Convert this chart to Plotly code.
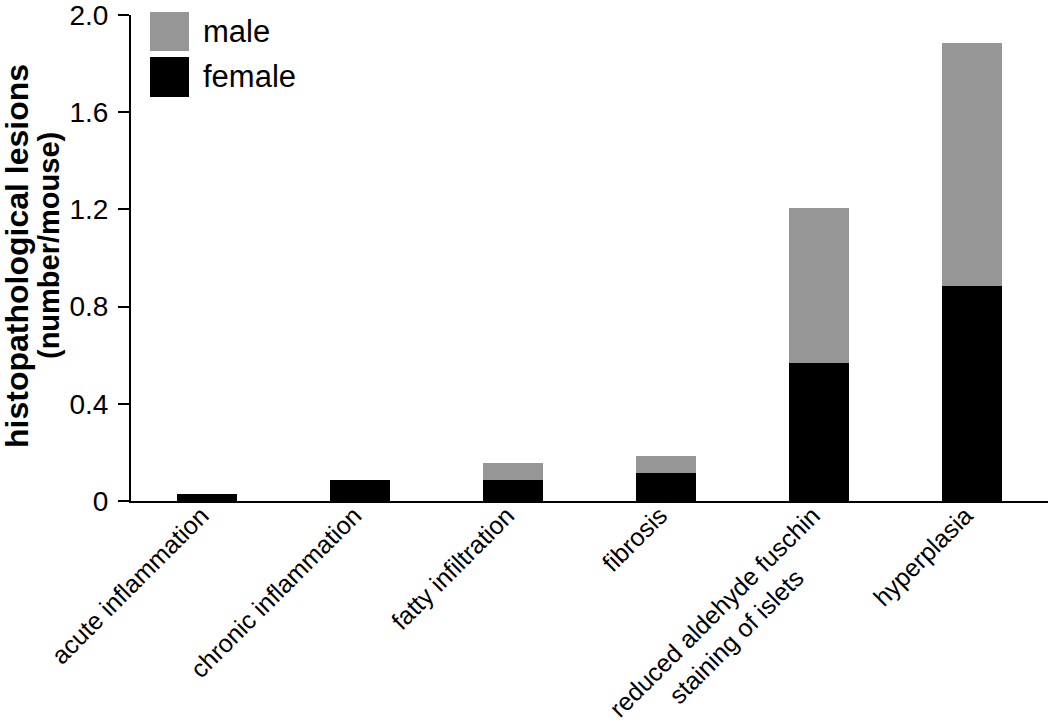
import plotly.graph_objects as go

categories = [
    "acute inflammation",
    "chronic inflammation",
    "fatty infiltration",
    "fibrosis",
    "reduced aldehyde fuschin<br>staining of islets" + "\u00a0" * 8,
    "hyperplasia",
]
female = [0.03, 0.085, 0.085, 0.115, 0.57, 0.885]
male = [0.0, 0.0, 0.07, 0.07, 0.635, 1.0]
y_tickvals = [0, 0.4, 0.8, 1.2, 1.6, 2.0]
y_ticktext = ["0", "0.4", "0.8", "1.2", "1.6", "2.0"]

FEMALE_COLOR = "#000000"
MALE_COLOR = "#969696"
FONT = "Liberation Sans, Arial, Helvetica, sans-serif"

fig = go.Figure()
fig.add_trace(go.Bar(x=categories, y=female, name="female",
                     marker=dict(color=FEMALE_COLOR, line=dict(width=0))))
fig.add_trace(go.Bar(x=categories, y=male, name="male",
                     marker=dict(color=MALE_COLOR, line=dict(width=0))))

TOP = 15
fig.update_layout(
    width=1050, height=726,
    margin=dict(l=131, r=2, t=TOP, b=225),
    barmode="stack", bargap=0.608,
    showlegend=False,
    plot_bgcolor="white", paper_bgcolor="white",
    font=dict(family=FONT, color="black"),
    xaxis=dict(
        showline=True, linecolor="black", linewidth=2,
        ticks="", tickangle=-45, automargin=False,
        ticklabelstandoff=-12, ticklabelshift=-6,
        tickfont=dict(size=25, family=FONT, color="black"),
        showgrid=False, zeroline=False,
    ),
    yaxis=dict(
        range=[0, 2.0005], tickvals=y_tickvals, ticktext=y_ticktext,
        showline=True, linecolor="black", linewidth=2, automargin=False,
        ticks="outside", ticklen=11, tickwidth=2, tickcolor="black",
        ticklabelstandoff=4, ticklabeloverflow="allow",
        tickfont=dict(size=28, family=FONT, color="black"),
        showgrid=False, zeroline=False,
    ),
)

plot_w, plot_h = 917, 501 - TOP
def px_x(p):
    return (p - 131) / plot_w
def px_y(p):
    return (501 - p) / plot_h

# y-axis title (two lines placed separately)
fig.add_annotation(xref="paper", yref="paper", x=px_x(17), y=px_y(256),
                   text="<b>histopathological lesions</b>", textangle=-90,
                   showarrow=False, xanchor="center", yanchor="middle",
                   font=dict(size=32, family=FONT, color="black"))
fig.add_annotation(xref="paper", yref="paper", x=px_x(49), y=px_y(246),
                   text="<b>(number/mouse)</b>", textangle=-90,
                   showarrow=False, xanchor="center", yanchor="middle",
                   font=dict(size=29, family=FONT, color="black"))

# legend drawn as swatches + labels
legend_items = [("male", MALE_COLOR, 12, 51), ("female", FEMALE_COLOR, 57, 97)]
for label, color, top, bottom in legend_items:
    fig.add_shape(type="rect", xref="paper", yref="paper",
                  x0=px_x(150), x1=px_x(189), y0=px_y(bottom), y1=px_y(top),
                  fillcolor=color, line=dict(width=0))
    fig.add_annotation(xref="paper", yref="paper", x=px_x(201), y=px_y((top + bottom) / 2),
                       text=label, showarrow=False, xanchor="left", yanchor="middle",
                       font=dict(size=31, family=FONT, color="black"))

fig.write_html("out.html", config={"displayModeBar": False},
               post_script="document.body.style.margin='0';document.body.style.overflow='hidden';")
